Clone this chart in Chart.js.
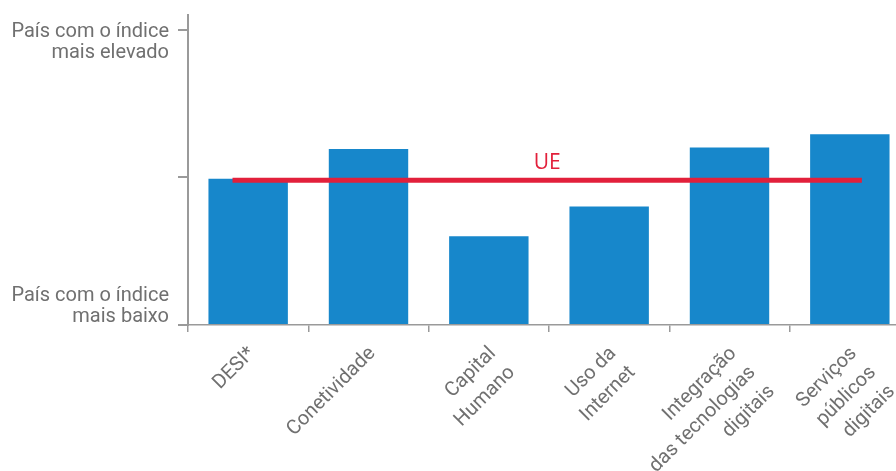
<!DOCTYPE html>
<html>
<head>
<meta charset="utf-8">
<script src="https://cdn.jsdelivr.net/npm/chart.js@4"></script>
<style>
  html, body { margin: 0; padding: 0; background: #fff; overflow: hidden; }
  #grafico { display: block; }
</style>
</head>
<body>
<canvas id="grafico" width="910" height="471"></canvas>
<script>
// categorias do eixo x (linhas de cada rótulo)
const categorias = [
  ['DESI*'],
  ['Conetividade'],
  ['Capital', 'Humano'],
  ['Uso da', 'Internet'],
  ['Integração', 'das tecnologias', 'digitais'],
  ['Serviços', 'públicos', 'digitais']
];

// posição de Portugal entre o mínimo (0) e o máximo (100)
const valoresPais = [49.5, 59.6, 30.1, 40.1, 60.1, 64.6];

// média da UE e extensão da linha (em unidades de categoria)
const valorUE = 49;
const extensaoUE = [-0.13, 5.1];

const rotuloTopo = ['', 'País com o índice', 'mais elevado'];
const rotuloBase = ['País com o índice', 'mais baixo', '', ''];
const marcasY = [0, 50, 100];

const azul = '#1787cb';
const vermelho = '#e2203b';
const cinza = '#9a9a9a';
const texto = '#707070';

const rotuloUE = {
  id: 'rotuloUE',
  afterDatasetsDraw(chart) {
    const pts = chart.getDatasetMeta(1).data;
    if (!pts.length) return;
    const x = (pts[0].x + pts[pts.length - 1].x) / 2;
    const y = pts[0].y - 17;
    const ctx = chart.ctx;
    ctx.save();
    ctx.fillStyle = vermelho;
    ctx.font = '21px "Open Sans"';
    ctx.textAlign = 'center';
    ctx.textBaseline = 'middle';
    ctx.fillText('UE', x, y);
    ctx.restore();
  }
};

function semPadding(scale) {
  scale.paddingTop = 0;
  scale.paddingBottom = 0;
  scale.paddingLeft = 0;
  scale.paddingRight = 0;
}

const ctx = document.getElementById('grafico').getContext('2d');
new Chart(ctx, {
  type: 'bar',
  data: {
    labels: categorias,
    datasets: [
      {
        type: 'bar',
        label: 'Portugal',
        data: valoresPais,
        backgroundColor: azul,
        grouped: false,
        barPercentage: 0.66,
        categoryPercentage: 1,
        xAxisID: 'x',
        order: 2
      },
      {
        type: 'line',
        label: 'UE',
        data: extensaoUE.map(v => ({ x: v, y: valorUE })),
        borderColor: vermelho,
        borderWidth: 5,
        pointRadius: 0,
        fill: false,
        xAxisID: 'xLinha',
        order: 1
      }
    ]
  },
  options: {
    responsive: false,
    animation: false,
    layout: { padding: { top: 15, left: 0, right: 0, bottom: 0 } },
    plugins: {
      legend: { display: false },
      tooltip: { enabled: false }
    },
    scales: {
      x: {
        type: 'category',
        offset: true,
        grid: {
          offset: true,
          drawOnChartArea: false,
          tickLength: 7,
          color: cinza,
          lineWidth: 1.5
        },
        border: { color: cinza, width: 1.5 },
        ticks: {
          autoSkip: false,
          maxRotation: 45,
          minRotation: 45,
          padding: 9,
          labelOffset: 4,
          color: texto,
          font: { family: 'Roboto', size: 20, lineHeight: 1.35 }
        },
        afterFit(scale) {
          scale.height = 146;
          semPadding(scale);
        }
      },
      xLinha: {
        type: 'linear',
        display: false,
        offset: false,
        grid: { offset: false },
        min: -0.5,
        max: 5.5,
        afterFit: semPadding
      },
      y: {
        min: 0,
        max: 105,
        afterBuildTicks(scale) {
          scale.ticks = marcasY.map(v => ({ value: v }));
        },
        grid: {
          drawOnChartArea: false,
          tickLength: 10,
          color: cinza,
          lineWidth: 2
        },
        border: { color: cinza, width: 2 },
        ticks: {
          padding: 9,
          labelOffset: 2,
          color: texto,
          font: { family: 'Roboto', size: 20, lineHeight: 1.05 },
          callback(value) {
            if (value === 100) return rotuloTopo;
            if (value === 0) return rotuloBase;
            return '';
          }
        },
        afterFit(scale) {
          scale.width = 188;
          semPadding(scale);
        }
      }
    }
  },
  plugins: [rotuloUE]
});
</script>
</body>
</html>
